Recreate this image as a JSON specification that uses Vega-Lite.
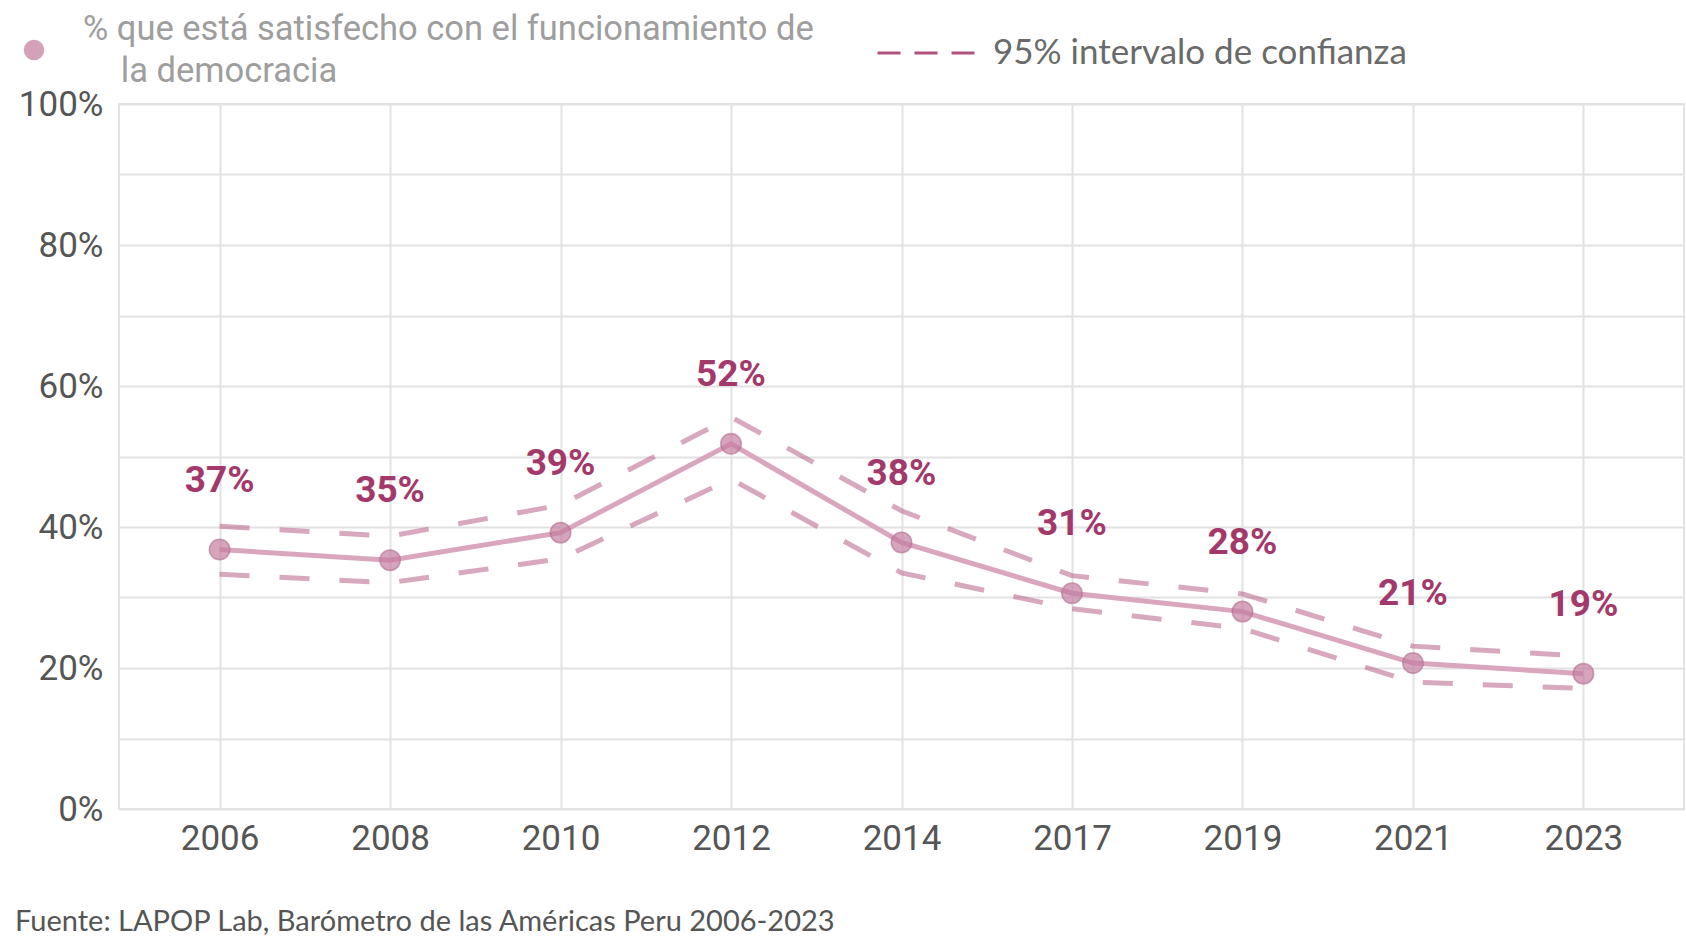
{
  "$schema": "https://vega.github.io/schema/vega-lite/v6.json",
  "width": 1565,
  "height": 705,
  "autosize": {"type": "none"},
  "padding": {"left": 119, "top": 104, "right": 2, "bottom": 131},
  "background": "white",
  "config": {
    "view": {"stroke": "#e2e2e2", "strokeWidth": 2},
    "font": "Roboto",
    "axisY": {"title": null, "labelFont": "Roboto", "labelFontSize": 35, "labelColor": "#555555", "ticks": false, "domain": false, "grid": true, "gridColor": "#e2e2e2", "gridWidth": 2, "labelPadding": 16}
  },
  "title": {"text": "Fuente: LAPOP Lab, Barómetro de las Américas Peru 2006-2023", "orient": "bottom", "anchor": "start", "frame": "group", "dx": -104, "offset": 52, "font": "Lato", "fontSize": 29, "fontWeight": "normal", "color": "#555555"},
  "data": {"values": [
    {"year": "2006", "value": 0.368, "lo": 0.333, "hi": 0.401},
    {"year": "2008", "value": 0.353, "lo": 0.321, "hi": 0.387},
    {"year": "2010", "value": 0.392, "lo": 0.355, "hi": 0.431},
    {"year": "2012", "value": 0.518, "lo": 0.468, "hi": 0.556},
    {"year": "2014", "value": 0.378, "lo": 0.335, "hi": 0.423},
    {"year": "2017", "value": 0.306, "lo": 0.284, "hi": 0.331},
    {"year": "2019", "value": 0.280, "lo": 0.256, "hi": 0.305},
    {"year": "2021", "value": 0.207, "lo": 0.180, "hi": 0.231},
    {"year": "2023", "value": 0.192, "lo": 0.171, "hi": 0.217}
  ]},
  "encoding": {
    "x": {"field": "year", "type": "ordinal", "scale": {"type": "point", "padding": 0.59},
      "axis": {"title": null, "labelFont": "Roboto", "labelFontSize": 35, "labelColor": "#555555", "ticks": false, "domain": false, "grid": true, "gridColor": "#e2e2e2", "gridWidth": 2, "labelPadding": 12, "labelAngle": 0}}
  },
  "layer": [
    {
      "mark": {"type": "line", "color": "#d9a6be", "strokeWidth": 5},
      "encoding": {
        "y": {"field": "value", "type": "quantitative", "scale": {"domain": [0, 1], "nice": false},
          "axis": {"values": [0, 0.1, 0.2, 0.3, 0.4, 0.5, 0.6, 0.7, 0.8, 0.9, 1], "format": ".0%", "labelExpr": "round(datum.value*100) % 20 == 0 ? datum.label : ''"}}
      }
    },
    {
      "mark": {"type": "line", "strokeWidth": 5, "strokeDash": [30, 30], "strokeOpacity": 0.5},
      "encoding": {
        "y": {"field": "hi", "type": "quantitative",
          "axis": {"values": [0, 0.1, 0.2, 0.3, 0.4, 0.5, 0.6, 0.7, 0.8, 0.9, 1], "format": ".0%", "labelExpr": "round(datum.value*100) % 20 == 0 ? datum.label : ''"}},
        "stroke": {"datum": "95% intervalo de confianza", "scale": {"range": ["#b0527d"]},
          "legend": {"orient": "none", "legendX": 757, "legendY": -101, "title": null, "padding": 0, "symbolType": "stroke", "symbolSize": 9409, "symbolStrokeWidth": 3, "symbolDash": [23, 14], "symbolOpacity": 1, "labelFont": "Lato", "labelFontSize": 35, "labelColor": "#6a6a6a", "labelOffset": 17, "labelLimit": 1000,
            "encode": {"symbols": {"update": {"strokeDash": {"value": [23, 14]}, "strokeOpacity": {"value": 1}, "strokeWidth": {"value": 3}}}}}}
      }
    },
    {
      "mark": {"type": "line", "strokeWidth": 5, "strokeDash": [30, 30], "strokeOpacity": 0.5},
      "encoding": {
        "y": {"field": "lo", "type": "quantitative",
          "axis": {"values": [0, 0.1, 0.2, 0.3, 0.4, 0.5, 0.6, 0.7, 0.8, 0.9, 1], "format": ".0%", "labelExpr": "round(datum.value*100) % 20 == 0 ? datum.label : ''"}},
        "stroke": {"datum": "95% intervalo de confianza"}
      }
    },
    {
      "mark": {"type": "point", "filled": true, "size": 420, "fillOpacity": 0.7, "stroke": "#b06a8e", "strokeWidth": 1.5, "strokeOpacity": 0.6},
      "encoding": {
        "y": {"field": "value", "type": "quantitative",
          "axis": {"values": [0, 0.1, 0.2, 0.3, 0.4, 0.5, 0.6, 0.7, 0.8, 0.9, 1], "format": ".0%", "labelExpr": "round(datum.value*100) % 20 == 0 ? datum.label : ''"}},
        "fill": {"datum": "% que está satisfecho con el funcionamiento de la democracia", "scale": {"range": ["#c47d9f"]},
          "legend": {"orient": "none", "legendX": -96, "legendY": -65, "padding": 0, "symbolType": "circle", "symbolSize": 420, "symbolOpacity": 0.72, "symbolStrokeColor": "transparent",
            "title": ["% que está satisfecho con el funcionamiento de", "\u200b\u00a0\u00a0\u00a0\u00a0\u200ala democracia"],
            "titleOrient": "right", "titleAnchor": "middle", "titleBaseline": "middle", "titleLineHeight": 42, "titleFont": "Roboto", "titleFontSize": 34.5, "titleFontWeight": "normal", "titleColor": "#9e9e9e", "titlePadding": 36, "titleLimit": 1000,
            "labelExpr": "''", "labelOffset": 0}}
      }
    },
    {
      "mark": {"type": "text", "dy": -69, "font": "Roboto", "fontSize": 37, "fontWeight": "bold", "color": "#a3396a"},
      "encoding": {
        "y": {"field": "value", "type": "quantitative",
          "axis": {"values": [0, 0.1, 0.2, 0.3, 0.4, 0.5, 0.6, 0.7, 0.8, 0.9, 1], "format": ".0%", "labelExpr": "round(datum.value*100) % 20 == 0 ? datum.label : ''"}},
        "text": {"field": "value", "format": ".0%"}
      }
    }
  ]
}
